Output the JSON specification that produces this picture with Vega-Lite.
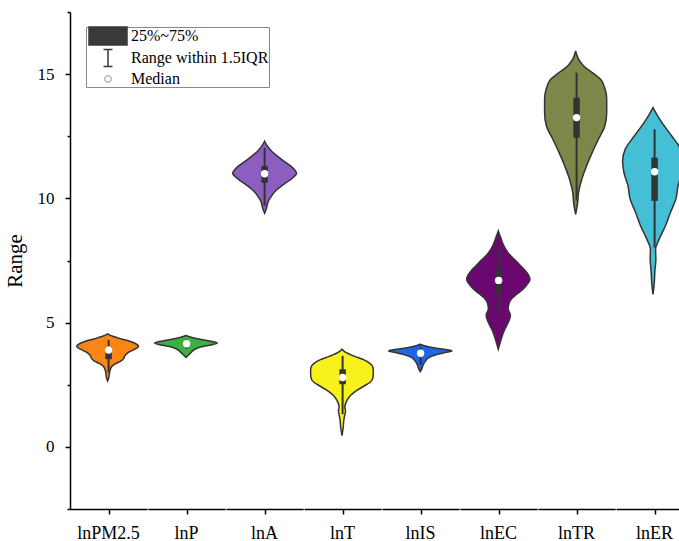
{
  "$schema": "https://vega.github.io/schema/vega-lite/v6.json",
  "padding": {"left": 4, "top": 11, "right": 0, "bottom": 0},
  "autosize": {"type": "pad"},
  "bounds": "flush",
  "data": {
    "values": [
      {"var": "lnPM2.5", "v": 4.55, "d": 0},
      {"var": "lnPM2.5", "v": 4.45, "d": 0.16},
      {"var": "lnPM2.5", "v": 4.35, "d": 0.41},
      {"var": "lnPM2.5", "v": 4.25, "d": 0.69},
      {"var": "lnPM2.5", "v": 4.15, "d": 0.88},
      {"var": "lnPM2.5", "v": 4.05, "d": 0.97},
      {"var": "lnPM2.5", "v": 3.95, "d": 0.88},
      {"var": "lnPM2.5", "v": 3.85, "d": 0.72},
      {"var": "lnPM2.5", "v": 3.75, "d": 0.6},
      {"var": "lnPM2.5", "v": 3.65, "d": 0.53},
      {"var": "lnPM2.5", "v": 3.55, "d": 0.5},
      {"var": "lnPM2.5", "v": 3.45, "d": 0.41},
      {"var": "lnPM2.5", "v": 3.35, "d": 0.25},
      {"var": "lnPM2.5", "v": 3.25, "d": 0.14},
      {"var": "lnPM2.5", "v": 3.1, "d": 0.08},
      {"var": "lnPM2.5", "v": 2.9, "d": 0.05},
      {"var": "lnPM2.5", "v": 2.75, "d": 0.03},
      {"var": "lnPM2.5", "v": 2.65, "d": 0},

      {"var": "lnP", "v": 4.48, "d": 0},
      {"var": "lnP", "v": 4.4, "d": 0.19},
      {"var": "lnP", "v": 4.3, "d": 0.56},
      {"var": "lnP", "v": 4.22, "d": 0.9},
      {"var": "lnP", "v": 4.18, "d": 0.98},
      {"var": "lnP", "v": 4.12, "d": 0.84},
      {"var": "lnP", "v": 4.05, "d": 0.55},
      {"var": "lnP", "v": 3.95, "d": 0.31},
      {"var": "lnP", "v": 3.85, "d": 0.2},
      {"var": "lnP", "v": 3.75, "d": 0.12},
      {"var": "lnP", "v": 3.6, "d": 0},

      {"var": "lnA", "v": 12.3, "d": 0},
      {"var": "lnA", "v": 12.1, "d": 0.09},
      {"var": "lnA", "v": 11.9, "d": 0.22},
      {"var": "lnA", "v": 11.7, "d": 0.4},
      {"var": "lnA", "v": 11.5, "d": 0.6},
      {"var": "lnA", "v": 11.3, "d": 0.82},
      {"var": "lnA", "v": 11.1, "d": 0.97},
      {"var": "lnA", "v": 11.0, "d": 1.0},
      {"var": "lnA", "v": 10.9, "d": 0.94},
      {"var": "lnA", "v": 10.7, "d": 0.75},
      {"var": "lnA", "v": 10.5, "d": 0.53},
      {"var": "lnA", "v": 10.3, "d": 0.34},
      {"var": "lnA", "v": 10.1, "d": 0.22},
      {"var": "lnA", "v": 9.9, "d": 0.12},
      {"var": "lnA", "v": 9.6, "d": 0.06},
      {"var": "lnA", "v": 9.4, "d": 0},

      {"var": "lnT", "v": 3.93, "d": 0},
      {"var": "lnT", "v": 3.8, "d": 0.12},
      {"var": "lnT", "v": 3.65, "d": 0.38},
      {"var": "lnT", "v": 3.5, "d": 0.69},
      {"var": "lnT", "v": 3.35, "d": 0.88},
      {"var": "lnT", "v": 3.2, "d": 0.97},
      {"var": "lnT", "v": 3.0, "d": 0.98},
      {"var": "lnT", "v": 2.8, "d": 0.97},
      {"var": "lnT", "v": 2.6, "d": 0.88},
      {"var": "lnT", "v": 2.45, "d": 0.69},
      {"var": "lnT", "v": 2.3, "d": 0.5},
      {"var": "lnT", "v": 2.15, "d": 0.34},
      {"var": "lnT", "v": 2.0, "d": 0.22},
      {"var": "lnT", "v": 1.8, "d": 0.13},
      {"var": "lnT", "v": 1.6, "d": 0.09},
      {"var": "lnT", "v": 1.45, "d": 0.11},
      {"var": "lnT", "v": 1.3, "d": 0.09},
      {"var": "lnT", "v": 1.1, "d": 0.06},
      {"var": "lnT", "v": 0.8, "d": 0.04},
      {"var": "lnT", "v": 0.45, "d": 0},

      {"var": "lnIS", "v": 4.13, "d": 0},
      {"var": "lnIS", "v": 4.05, "d": 0.19},
      {"var": "lnIS", "v": 3.97, "d": 0.5},
      {"var": "lnIS", "v": 3.9, "d": 0.88},
      {"var": "lnIS", "v": 3.86, "d": 0.99},
      {"var": "lnIS", "v": 3.8, "d": 0.78},
      {"var": "lnIS", "v": 3.7, "d": 0.47},
      {"var": "lnIS", "v": 3.6, "d": 0.28},
      {"var": "lnIS", "v": 3.45, "d": 0.16},
      {"var": "lnIS", "v": 3.3, "d": 0.09},
      {"var": "lnIS", "v": 3.15, "d": 0.05},
      {"var": "lnIS", "v": 3.03, "d": 0},

      {"var": "lnEC", "v": 8.69, "d": 0},
      {"var": "lnEC", "v": 8.4, "d": 0.08},
      {"var": "lnEC", "v": 8.1, "d": 0.17},
      {"var": "lnEC", "v": 7.8, "d": 0.31},
      {"var": "lnEC", "v": 7.55, "d": 0.5},
      {"var": "lnEC", "v": 7.3, "d": 0.69},
      {"var": "lnEC", "v": 7.1, "d": 0.84},
      {"var": "lnEC", "v": 6.9, "d": 0.95},
      {"var": "lnEC", "v": 6.75, "d": 0.99},
      {"var": "lnEC", "v": 6.55, "d": 0.91},
      {"var": "lnEC", "v": 6.35, "d": 0.78},
      {"var": "lnEC", "v": 6.15, "d": 0.59},
      {"var": "lnEC", "v": 5.95, "d": 0.41},
      {"var": "lnEC", "v": 5.75, "d": 0.33},
      {"var": "lnEC", "v": 5.55, "d": 0.31},
      {"var": "lnEC", "v": 5.3, "d": 0.38},
      {"var": "lnEC", "v": 5.1, "d": 0.34},
      {"var": "lnEC", "v": 4.9, "d": 0.27},
      {"var": "lnEC", "v": 4.7, "d": 0.19},
      {"var": "lnEC", "v": 4.45, "d": 0.12},
      {"var": "lnEC", "v": 4.2, "d": 0.06},
      {"var": "lnEC", "v": 3.93, "d": 0},

      {"var": "lnTR", "v": 15.93, "d": 0},
      {"var": "lnTR", "v": 15.6, "d": 0.09},
      {"var": "lnTR", "v": 15.33, "d": 0.25},
      {"var": "lnTR", "v": 15.05, "d": 0.53},
      {"var": "lnTR", "v": 14.79, "d": 0.78},
      {"var": "lnTR", "v": 14.4, "d": 0.92},
      {"var": "lnTR", "v": 14.0, "d": 0.97},
      {"var": "lnTR", "v": 13.45, "d": 0.97},
      {"var": "lnTR", "v": 12.9, "d": 0.91},
      {"var": "lnTR", "v": 12.4, "d": 0.72},
      {"var": "lnTR", "v": 11.85, "d": 0.52},
      {"var": "lnTR", "v": 11.3, "d": 0.34},
      {"var": "lnTR", "v": 10.77, "d": 0.19},
      {"var": "lnTR", "v": 10.23, "d": 0.09},
      {"var": "lnTR", "v": 9.8, "d": 0.06},
      {"var": "lnTR", "v": 9.36, "d": 0},

      {"var": "lnER", "v": 13.65, "d": 0},
      {"var": "lnER", "v": 13.35, "d": 0.13},
      {"var": "lnER", "v": 13.05, "d": 0.28},
      {"var": "lnER", "v": 12.5, "d": 0.59},
      {"var": "lnER", "v": 12.0, "d": 0.86},
      {"var": "lnER", "v": 11.5, "d": 0.95},
      {"var": "lnER", "v": 11.05, "d": 0.91},
      {"var": "lnER", "v": 10.5, "d": 0.78},
      {"var": "lnER", "v": 10.0, "d": 0.72},
      {"var": "lnER", "v": 9.45, "d": 0.55},
      {"var": "lnER", "v": 8.9, "d": 0.39},
      {"var": "lnER", "v": 8.35, "d": 0.19},
      {"var": "lnER", "v": 7.95, "d": 0.08},
      {"var": "lnER", "v": 7.55, "d": 0.09},
      {"var": "lnER", "v": 7.1, "d": 0.06},
      {"var": "lnER", "v": 6.6, "d": 0.04},
      {"var": "lnER", "v": 6.14, "d": 0},

      {"var": "lnPM2.5", "lo": 2.99, "q1": 3.53, "med": 3.9, "q3": 4.03, "hi": 4.3},
      {"var": "lnP", "lo": 3.95, "q1": 4.05, "med": 4.15, "q3": 4.22, "hi": 4.32},
      {"var": "lnA", "lo": 9.7, "q1": 10.63, "med": 10.99, "q3": 11.3, "hi": 12.04},
      {"var": "lnT", "lo": 1.31, "q1": 2.52, "med": 2.79, "q3": 3.12, "hi": 3.66},
      {"var": "lnIS", "lo": 3.3, "q1": 3.7, "med": 3.77, "q3": 3.88, "hi": 4.0},
      {"var": "lnEC", "lo": 5.34, "q1": 6.14, "med": 6.7, "q3": 7.15, "hi": 8.08},
      {"var": "lnTR", "lo": 9.9, "q1": 12.44, "med": 13.25, "q3": 14.05, "hi": 15.06},
      {"var": "lnER", "lo": 8.02, "q1": 9.9, "med": 11.07, "q3": 11.64, "hi": 12.78},

      {"var": "lnPM2.5", "item": "25%~75%"},
      {"var": "lnPM2.5", "item": "Range within 1.5IQR"},
      {"var": "lnPM2.5", "item": "Median"}
    ]
  },
  "facet": {
    "column": {
      "field": "var",
      "type": "nominal",
      "sort": ["lnPM2.5", "lnP", "lnA", "lnT", "lnIS", "lnEC", "lnTR", "lnER"],
      "header": {
        "title": null,
        "labelOrient": "bottom",
        "labelFont": "Liberation Serif",
        "labelFontSize": 18,
        "labelColor": "black",
        "labelPadding": 10
      }
    }
  },
  "spacing": 0,
  "spec": {
    "width": 77.2,
    "height": 497,
    "encoding": {
      "y": {
        "type": "quantitative",
        "scale": {"domain": [-2.5, 17.5], "nice": false, "zero": false},
        "axis": {
          "title": "Range",
          "values": [-2.5, 0, 2.5, 5, 7.5, 10, 12.5, 15, 17.5],
          "labelExpr": "datum.value % 5 === 0 ? format(datum.value, 'd') : ''",
          "tickSize": {"condition": {"test": "datum.value % 5 === 0", "value": 5}, "value": 3},
          "grid": false
        }
      }
    },
    "layer": [
      {
        "transform": [{"filter": {"field": "d", "valid": true}}],
        "mark": {"type": "area", "orient": "horizontal", "interpolate": "monotone", "stroke": "#333333", "strokeWidth": 1.5, "fillOpacity": 1},
        "encoding": {
          "y": {"field": "v", "type": "quantitative"},
          "x": {
            "field": "d",
            "type": "quantitative",
            "stack": "center",
            "scale": {"domain": [-0.103, 1.103], "nice": false, "zero": false},
            "axis": {"values": [0.5], "labels": false, "title": null, "grid": false, "tickSize": 5}
          },
          "color": {
            "field": "var",
            "type": "nominal",
            "scale": {
              "domain": ["lnPM2.5", "lnP", "lnA", "lnT", "lnIS", "lnEC", "lnTR", "lnER"],
              "range": ["#f98516", "#3cb040", "#8c5ebf", "#f7f21c", "#1f66e5", "#6b086f", "#7d8749", "#44bfd6"]
            },
            "legend": null
          }
        }
      },
      {
        "transform": [{"filter": {"field": "q1", "valid": true}}],
        "mark": {"type": "rule", "color": "#333333", "strokeWidth": 2},
        "encoding": {
          "x": {"datum": 0.5},
          "y": {"field": "lo", "type": "quantitative"},
          "y2": {"field": "hi"}
        }
      },
      {
        "transform": [{"filter": {"field": "q1", "valid": true}}],
        "mark": {"type": "rule", "color": "#333333", "strokeWidth": 6.5, "strokeCap": "butt"},
        "encoding": {
          "x": {"datum": 0.5},
          "y": {"field": "q1", "type": "quantitative"},
          "y2": {"field": "q3"}
        }
      },
      {
        "transform": [{"filter": {"field": "q1", "valid": true}}],
        "mark": {"type": "point", "filled": true, "fill": "white", "stroke": null, "size": 55, "opacity": 1},
        "encoding": {
          "x": {"datum": 0.5},
          "y": {"field": "med", "type": "quantitative"}
        }
      },
      {
        "transform": [{"filter": {"field": "item", "valid": true}}],
        "mark": {
          "type": "point",
          "filled": true,
          "opacity": 0,
          "fill": {"expr": "datum.value === '25%~75%' ? '#3a3a3a' : (datum.value === 'Median' ? '#ffffff' : 'transparent')"},
          "stroke": {"expr": "datum.value === 'Median' ? '#bbbbbb' : '#3a3a3a'"},
          "strokeWidth": {"expr": "datum.value === 'Median' ? 1 : 1.6"}
        },
        "encoding": {
          "x": {"datum": 0.5},
          "y": {"datum": 5},
          "shape": {
            "field": "item",
            "type": "nominal",
            "scale": {
              "domain": ["25%~75%", "Range within 1.5IQR", "Median"],
              "range": [
                "M-2.375,-1.125H2.375V1.125H-2.375Z",
                "M-0.56,-1.06H0.56M0,-1.06V1.06M-0.56,1.06H0.56",
                "M0.41,0A0.41,0.41 0 1,1 -0.41,0A0.41,0.41 0 1,1 0.41,0Z"
              ]
            },
            "legend": {
              "title": null,
              "orient": "none",
              "legendX": 16,
              "legendY": 15,
              "symbolOffset": 13,
              "labelOffset": 14,
              "rowPadding": -2
            }
          }
        }
      }
    ]
  },
  "config": {
    "view": {"stroke": null},
    "font": "Liberation Serif",
    "axis": {
      "domainColor": "black",
      "domainWidth": 1.5,
      "tickColor": "black",
      "tickWidth": 1.5,
      "labelColor": "black",
      "labelFont": "Liberation Serif",
      "labelFontSize": 17,
      "labelPadding": 11,
      "titleFont": "Liberation Serif",
      "titleFontSize": 21,
      "titleFontWeight": "normal",
      "titleColor": "black",
      "titlePadding": 12
    },
    "legend": {
      "labelFont": "Liberation Serif",
      "labelFontSize": 16,
      "labelColor": "black",
      "symbolSize": 256,
      "padding": 0,
      "strokeColor": "#888888"
    }
  }
}
